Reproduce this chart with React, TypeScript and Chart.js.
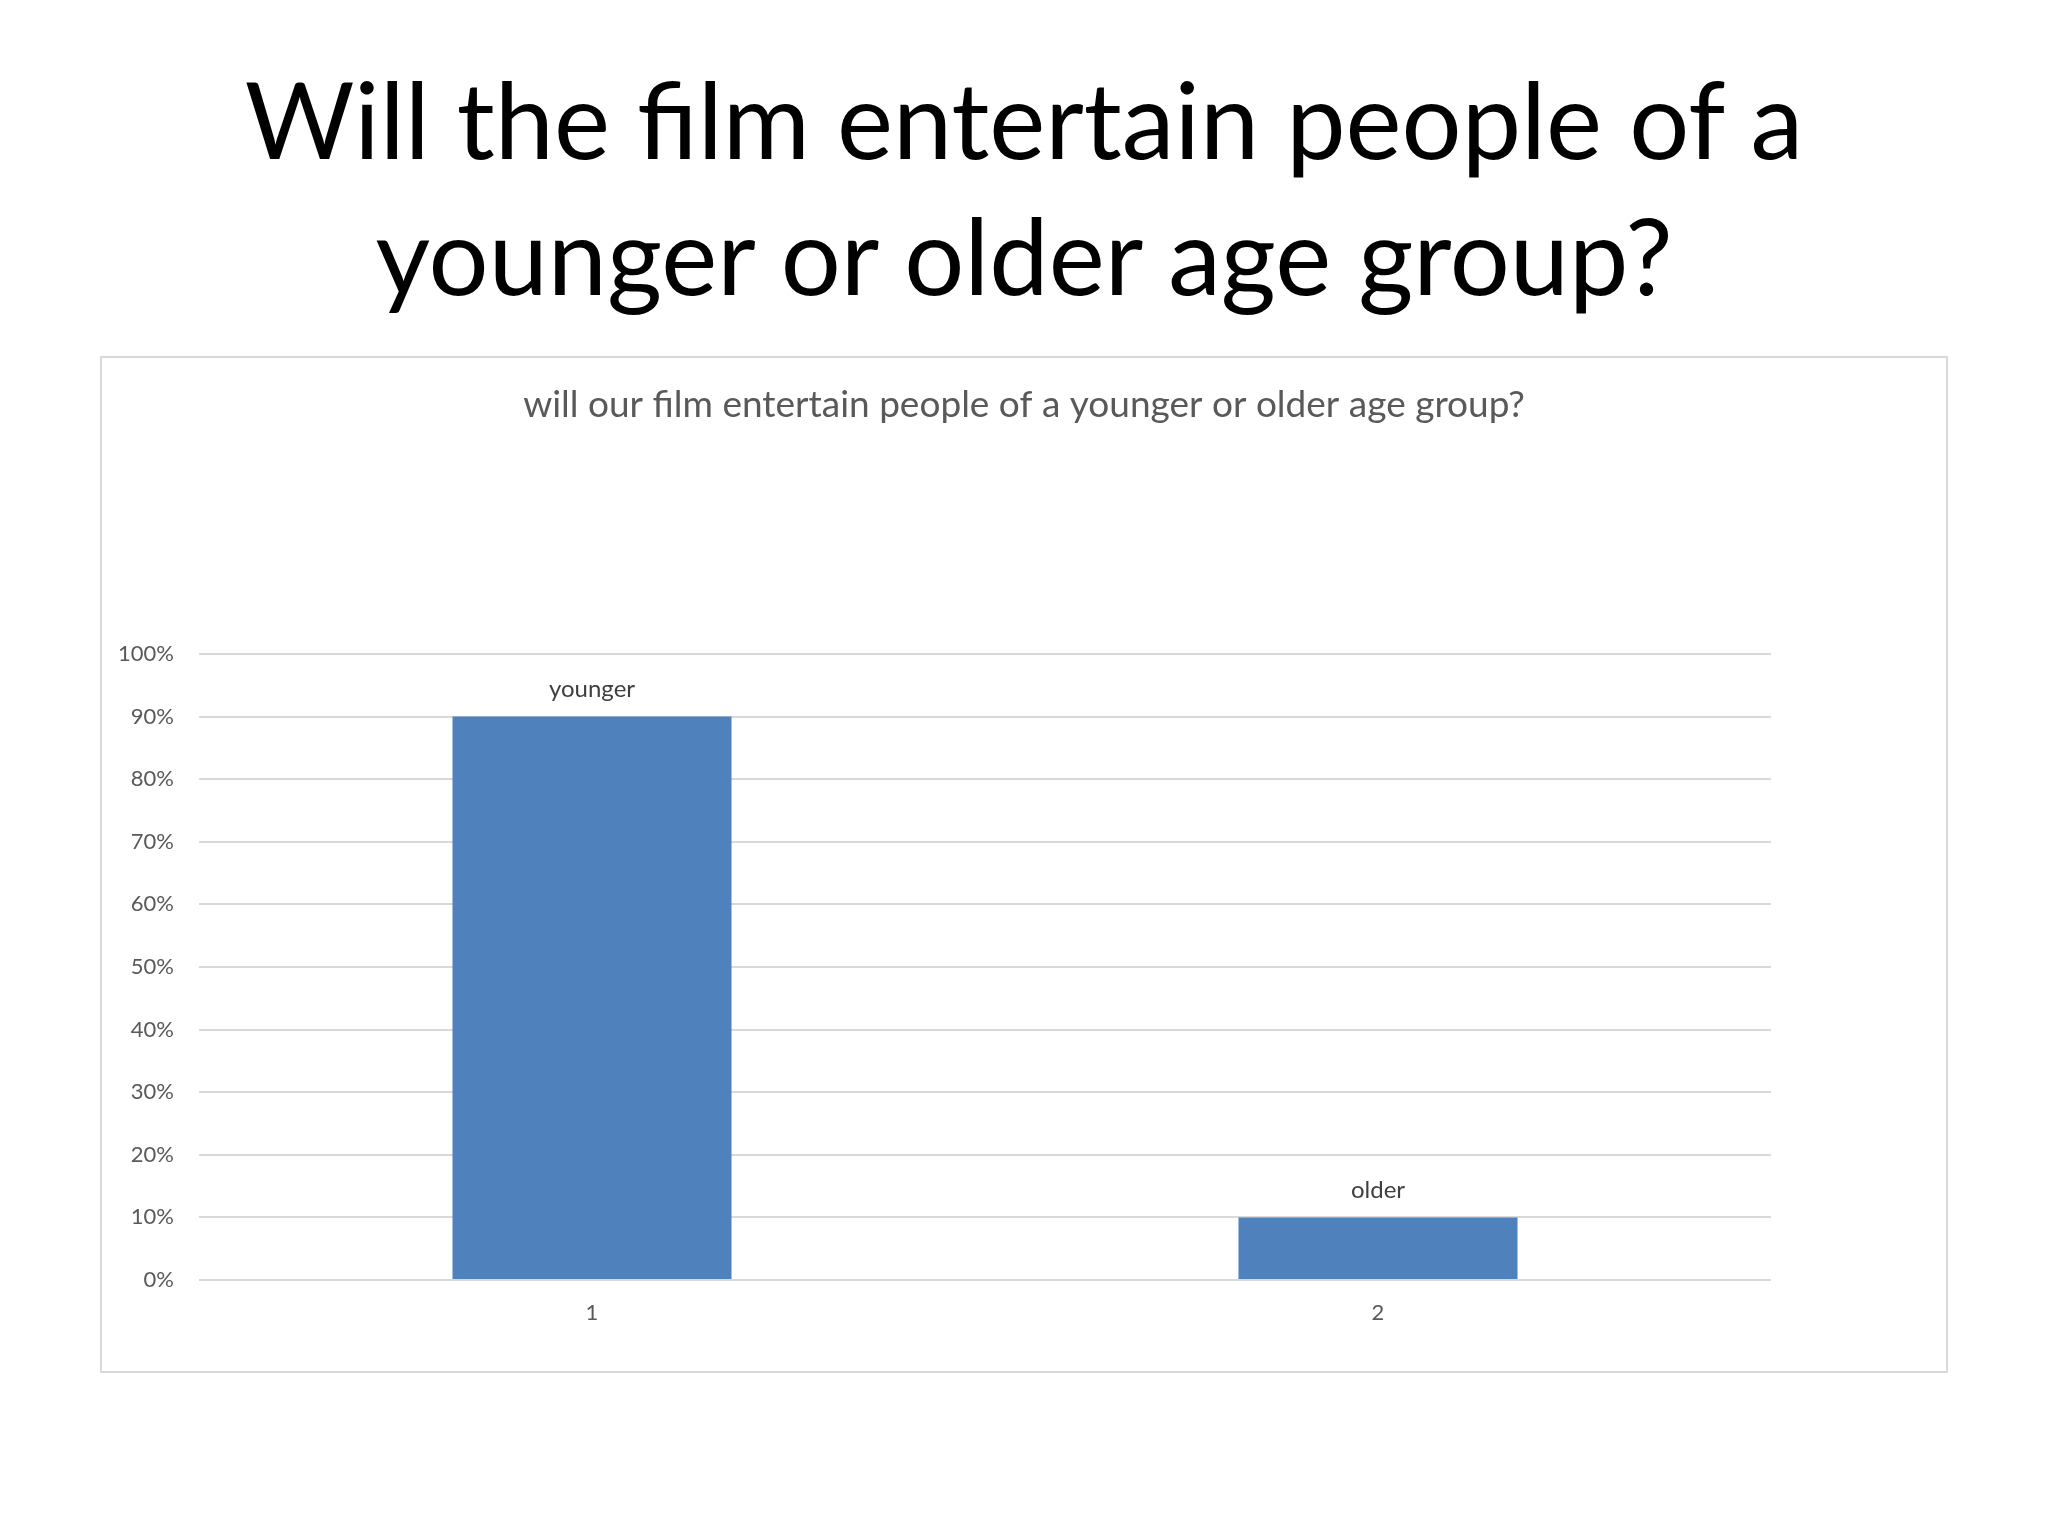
import { useEffect, useRef } from 'react';
import { Chart, registerables } from 'chart.js';

Chart.register(...registerables);

const TITLE_LINES = ['Will the film entertain people of a', 'younger or older age group?'];
const CHART_TITLE = 'will our film entertain people of a younger or older age group?';
const CATEGORIES = ['1', '2'];
const BAR_LABELS = ['younger', 'older'];
const VALUES = [90, 10];

const FONT = 'Lato, "Open Sans", sans-serif';

// chart title centred on the whole canvas + "younger" / "older" above each bar
const labelPlugin = {
  id: 'labels',
  afterDatasetsDraw(chart: Chart) {
    const ctx = chart.ctx;
    const meta = chart.getDatasetMeta(0);
    ctx.save();
    ctx.textAlign = 'center';
    ctx.textBaseline = 'middle';

    ctx.font = `37px ${FONT}`;
    ctx.fillStyle = '#595959';
    ctx.fillText(CHART_TITLE, chart.width / 2, 47);

    ctx.font = `24px ${FONT}`;
    ctx.fillStyle = '#404040';
    meta.data.forEach((el: any, i: number) => {
      ctx.fillText(BAR_LABELS[i], el.x, el.y - 27);
    });
    ctx.restore();
  },
};

function BarChart() {
  const chartRef = useRef<HTMLCanvasElement>(null);
  const chartInstance = useRef<Chart | null>(null);

  useEffect(() => {
    if (!chartRef.current) return;
    if (chartInstance.current) chartInstance.current.destroy();

    chartInstance.current = new Chart(chartRef.current, {
      type: 'bar',
      data: {
        labels: CATEGORIES,
        datasets: [
          {
            data: VALUES,
            backgroundColor: '#4F81BD',
            borderWidth: 0,
            categoryPercentage: 1,
            barPercentage: 0.355,
          },
        ],
      },
      plugins: [labelPlugin],
      options: {
        responsive: false,
        animation: false,
        layout: { padding: { left: 0, right: 175, top: 296, bottom: 0 } },
        plugins: {
          legend: { display: false },
          tooltip: { enabled: false },
          title: { display: false },
        },
        scales: {
          x: {
            grid: { display: false, drawTicks: false },
            border: { display: false },
            ticks: { color: '#595959', font: { family: FONT, size: 22 }, padding: 20 },
            afterFit: (scale: any) => {
              scale.height = 91;
            },
          },
          y: {
            min: 0,
            max: 100,
            grid: { color: '#d9d9d9', lineWidth: 2, drawTicks: false },
            border: { display: false },
            ticks: {
              stepSize: 10,
              color: '#595959',
              font: { family: FONT, size: 22 },
              padding: 25,
              callback: (v: any) => `${v}%`,
            },
            afterFit: (scale: any) => {
              scale.width = 97;
            },
          },
        },
      },
    });

    return () => {
      if (chartInstance.current) {
        chartInstance.current.destroy();
        chartInstance.current = null;
      }
    };
  }, []);

  return <canvas ref={chartRef} width={1844} height={1013} style={{ display: 'block' }} />;
}

export default function App() {
  return (
    <div
      style={{
        position: 'absolute',
        left: 0,
        top: 0,
        width: 2048,
        height: 1536,
        background: '#fff',
        fontFamily: FONT,
      }}
    >
      <div
        style={{
          position: 'absolute',
          left: 0,
          top: 50,
          width: 2048,
          textAlign: 'center',
          fontSize: 106,
          lineHeight: '136px',
          color: '#000',
        }}
      >
        {TITLE_LINES.map((line) => (
          <div key={line}>{line}</div>
        ))}
      </div>
      <div
        style={{
          position: 'absolute',
          left: 100,
          top: 356,
          width: 1844,
          height: 1013,
          border: '2px solid #d9d9d9',
        }}
      >
        <BarChart />
      </div>
    </div>
  );
}
